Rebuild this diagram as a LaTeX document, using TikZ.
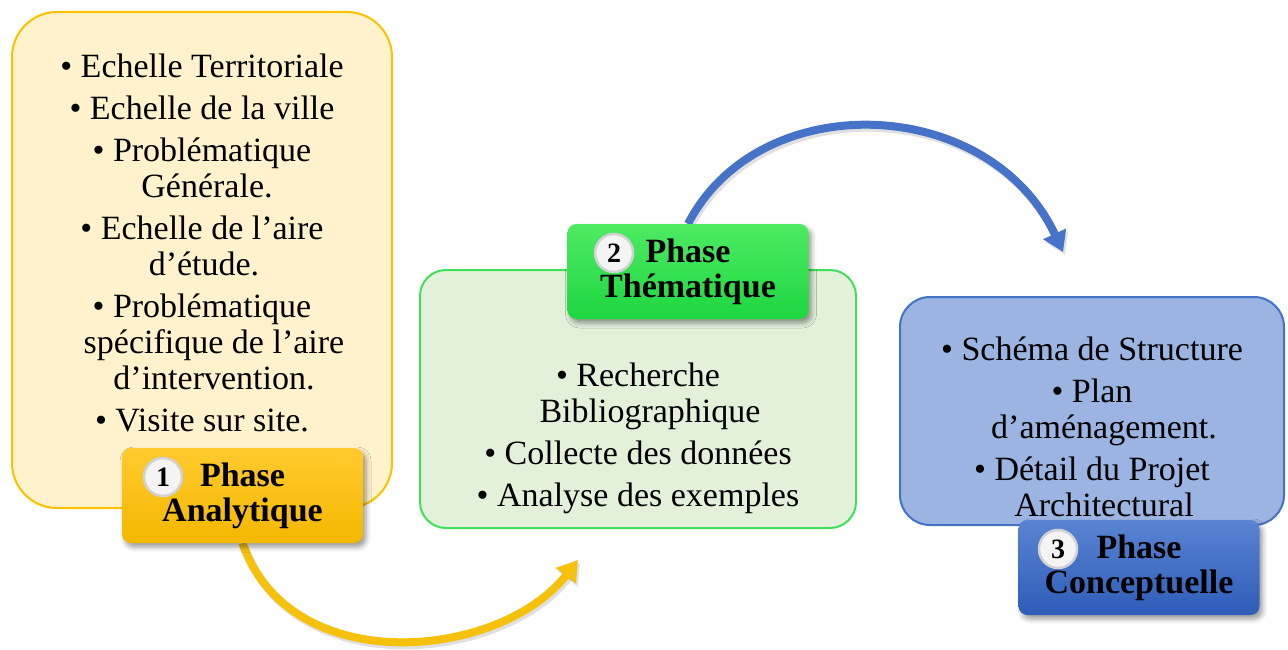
\documentclass[tikz,border=0pt]{standalone}
\usepackage{fontspec}
\setmainfont{Liberation Serif}
\usetikzlibrary{arrows.meta,shadows.blur}

\definecolor{paleyellow}{HTML}{FFF2CC}
\definecolor{goldline}{HTML}{FFC000}
\definecolor{goldtop}{HTML}{FFCA2E}
\definecolor{goldbot}{HTML}{F4B800}
\definecolor{palegreen}{HTML}{E3F1DB}
\definecolor{greenline}{HTML}{3EE05A}
\definecolor{greentop}{HTML}{4DEB63}
\definecolor{greenbot}{HTML}{1ED640}
\definecolor{paleblue}{HTML}{9BB4E1}
\definecolor{blueline}{HTML}{4472C4}
\definecolor{bluetop}{HTML}{5A84D2}
\definecolor{bluebot}{HTML}{2E5CB8}
\definecolor{badge}{HTML}{F4F4F4}
\definecolor{badgering}{HTML}{D2D2D2}
\definecolor{arrowgold}{HTML}{F6C10C}
\definecolor{arrowblue}{HTML}{4673C8}

\pgfdeclarelayer{back}
\pgfsetlayers{back,main}

\tikzset{
  panel/.style={rounded corners=#1, line width=2pt},
  phasebox/.style={rounded corners=9pt, minimum width=241pt, minimum height=95pt,
    inner sep=0pt,
    blur shadow={shadow xshift=3pt, shadow yshift=-4pt, shadow blur radius=5pt, shadow opacity=40}},
  phasetext/.style={align=center, inner sep=0pt, font=\bfseries\fontsize{34}{35}\selectfont},
  bodytext/.style={align=center, inner sep=0pt, font=\fontsize{34}{36}\selectfont},
  numbadge/.style={circle, fill=badge, draw=badgering, line width=2.5pt,
    minimum size=38pt, inner sep=0pt, font=\bfseries\fontsize{28}{28}\selectfont},
  flow/.style={line width=8pt, -{Triangle[length=20pt,width=24pt]},
    preaction={draw, line width=8pt, black, opacity=0.12,
      transform canvas={shift={(2pt,-3pt)}}}},
}

\begin{document}
\begin{tikzpicture}[x=1pt,y=-1pt]
\useasboundingbox (0,0) rectangle (1288,650);

% phase tags
\node[phasebox, top color=goldtop, bottom color=goldbot] (l1) at (242.5,495.5) {};
\node[phasebox, top color=greentop, bottom color=greenbot] (l2) at (688,271.5) {};
\node[phasebox, top color=bluetop, bottom color=bluebot] (l3) at (1139,567.5) {};

\node[phasetext] (p1) at (l1) {Phase\\Analytique};
\node[phasetext] (p2) at (l2) {Phase\\Thématique};
\node[phasetext] (p3) at (l3) {Phase\\Conceptuelle};

\node[numbadge] (n1) at (163,477) {1};
\node[numbadge] (n2) at (614,253) {2};
\node[numbadge] (n3) at (1058,549) {3};

% arrow end points
\coordinate (e1) at (578,560);
\coordinate (e2) at (1063,252);

\begin{pgfonlayer}{back}
  % content panels
  \draw[panel=45pt, fill=paleyellow, draw=goldline] (12,12) rectangle (392,508);
  \draw[panel=26pt, fill=palegreen, draw=greenline] (420,270) rectangle (856,528);
  \draw[panel=30pt, fill=paleblue, draw=blueline] (900,297) rectangle (1284,525);
  % flow arrows, leaving from under the tags
  \draw[flow, draw=arrowgold] (l1.south) .. controls (290,680) and (500,660) .. (e1);
  \draw[flow, draw=arrowblue] (l2.north) .. controls (760,85) and (990,95) .. (e2);
\end{pgfonlayer}

% panel texts
\node[bodytext] (t1) at (202,243) {%
  • Echelle Territoriale\\[6pt]
  • Echelle de la ville\\[6pt]
  • Problématique\\
  \hspace*{10pt}Générale.\\[6pt]
  • Echelle de l’aire\\
  \hspace*{4pt}d’étude.\\[6pt]
  • Problématique\\
  \hspace*{24pt}spécifique de l’aire\\
  \hspace*{24pt}d’intervention.\\[6pt]
  • Visite sur site.};

\node[bodytext] (t2) at (638,438) {%
  • Recherche\\
  \hspace*{24pt}Bibliographique\\[6pt]
  • Collecte des données\\[6pt]
  • Analyse des exemples};

\node[bodytext] (t3) at (1092,427) {%
  • Schéma de Structure\\[6pt]
  • Plan\\
  \hspace*{24pt}d’aménagement.\\[6pt]
  • Détail du Projet\\
  \hspace*{24pt}Architectural};

\end{tikzpicture}
\end{document}
